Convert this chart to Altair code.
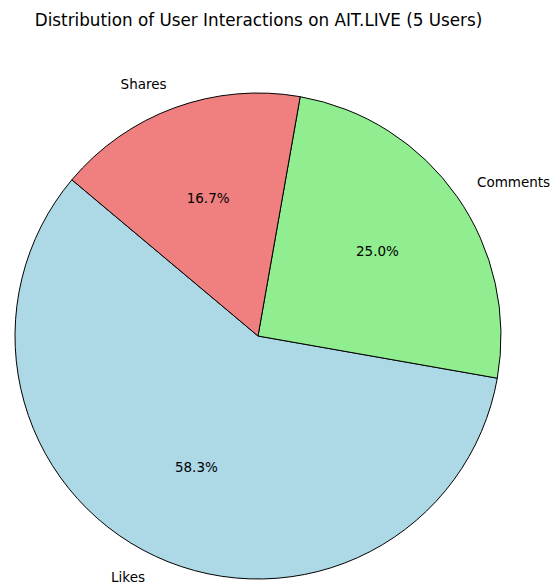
import math
import altair as alt
import pandas as pd

categories = ["Likes", "Comments", "Shares"]
counts = [7, 3, 2]
colors = ["#add8e6", "#90ee90", "#f08080"]
title_text = "Distribution of User Interactions on AIT.LIVE (5 Users)"

total = sum(counts)
df = pd.DataFrame({"category": categories, "count": counts, "idx": list(range(len(categories)))})

TOP = 40
R = 243
CX = 258
CY = 336 - TOP
START_DEG = 140  # counter-clockwise start angle (from +x axis)

base = (
    alt.Chart(df)
    .transform_window(cum="sum(count)", sort=[alt.SortField("idx")], frame=[None, 0])
    .transform_calculate(
        start="datum.cum - datum.count",
        mid="datum.cum - datum.count / 2",
        pct=f"format(datum.count / {total} * 100, '.1f') + '%'",
        a=f"({START_DEG} + datum.mid / {total} * 360) * PI / 180",
    )
    .transform_calculate(leftside="cos(datum.a) < 0")
)

theta_scale = alt.Scale(
    domain=[0, total],
    range=[math.radians(90 - START_DEG), math.radians(90 - START_DEG - 360)],
)

arc = base.mark_arc(outerRadius=R, stroke="black", strokeWidth=1).encode(
    theta=alt.Theta("start:Q", scale=theta_scale, stack=None),
    theta2="cum:Q",
    color=alt.Color("category:N", scale=alt.Scale(domain=categories, range=colors), legend=None),
    x=alt.value(CX),
    y=alt.value(CY),
)

text_style = dict(font="DejaVu Sans", fontSize=13.5, color="black", baseline="middle")

lbl_left = base.transform_filter("datum.leftside").mark_text(
    radius=1.1 * R, align="right", **text_style
).encode(
    theta=alt.Theta("mid:Q", scale=theta_scale, stack=None),
    text="category:N",
    x=alt.value(CX),
    y=alt.value(CY),
)

lbl_right = base.transform_filter("!datum.leftside").mark_text(
    radius=1.1 * R, align="left", **text_style
).encode(
    theta=alt.Theta("mid:Q", scale=theta_scale, stack=None),
    text="category:N",
    x=alt.value(CX),
    y=alt.value(CY),
)

pct = base.mark_text(radius=0.6 * R, align="center", **text_style).encode(
    theta=alt.Theta("mid:Q", scale=theta_scale, stack=None),
    text="pct:N",
    x=alt.value(CX),
    y=alt.value(CY),
)

chart = (
    alt.layer(arc, lbl_left, lbl_right, pct)
    .properties(
        width=555,
        height=584 - TOP,
        padding={"top": TOP, "left": 0, "right": 0, "bottom": 0},
        autosize="none",
        title=alt.TitleParams(
            title_text,
            font="DejaVu Sans",
            fontSize=16.8,
            fontWeight="normal",
            color="black",
            anchor="middle",
            dx=-19,
            offset=10,
        ),
    )
    .configure_view(stroke=None)
)

chart.save("out.html", embed_options={"renderer": "svg", "actions": False})
